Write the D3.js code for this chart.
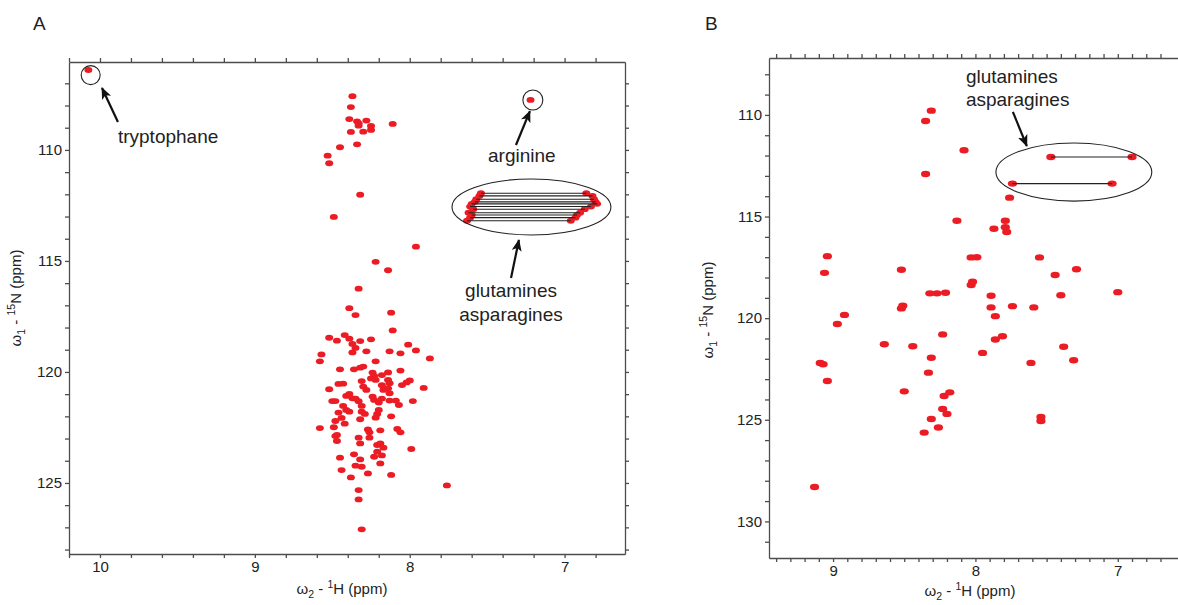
<!DOCTYPE html>
<html>
<head>
<meta charset="utf-8">
<title>HSQC spectra</title>
<script src="https://cdnjs.cloudflare.com/ajax/libs/d3/7.8.5/d3.min.js"></script>
<style>
  body { margin: 0; background: #fff; }
  svg { display: block; font-family: "Liberation Sans", Arial, sans-serif; }
  .axis path, .axis line { stroke: #4d4d4d; stroke-width: 1.3; }
  .axis text { font-size: 15px; fill: #222; }
  .peak { fill: #ec1c24; }
  .pair { stroke: #222; stroke-width: 1.1; }
  .note { font-size: 19px; fill: #222; }
  .ring { fill: none; stroke: #222; stroke-width: 1.1; }
  .arrow { stroke: #111; stroke-width: 2.2; }
</style>
</head>
<body>
<div id="chart"></div>
<script>
// ---- data: panel A (1H ppm, 15N ppm) ----
var trpPeakA = [10.075, 106.4];
var argPeakA = [7.22, 107.75];

var amidePeaksA = [
  [8.37,107.58],[8.38,108.07],[8.39,108.61],[8.34,108.71],[8.33,108.8],[8.33,108.91],[8.28,108.68],
  [8.25,108.92],[8.25,109.1],[8.30,109.18],[8.38,109.19],[8.11,108.83],[8.34,109.75],[8.45,109.88],
  [8.53,110.26],[8.52,110.6],[8.32,112.02],[8.49,113.02],
  [7.96,114.36],[8.22,115.04],[8.14,115.42],[8.33,116.25],[8.39,117.13],[8.35,117.44],[8.12,117.33],
  [8.11,118.13],[8.52,118.46],[8.42,118.34],[8.39,118.50],[8.47,118.59],[8.32,118.61],[8.25,118.53],
  [8.37,118.74],[8.35,118.92],[8.37,119.12],[8.28,119.07],[8.01,118.77],[7.96,119.03],[8.13,119.07],
  [8.06,119.16],[8.57,119.21],[8.58,119.52],[7.87,119.39],[8.22,119.52],[8.45,119.88],[8.36,119.88],
  [8.32,119.81],[8.30,119.76],[8.24,120.03],[8.14,120.02],[8.06,119.94],[8.25,120.29],[8.23,120.18],
  [8.18,120.14],[8.22,120.36],[8.31,120.41],[8.14,120.36],[8.13,120.51],[8.00,120.38],[8.02,120.47],
  [8.05,120.59],[8.46,120.54],[8.43,120.53],[8.52,120.78],[8.30,120.66],[8.28,120.81],[8.18,120.60],
  [8.17,120.81],[8.14,120.74],[8.13,120.96],[7.91,120.72],[8.39,120.99],[8.41,121.08],[8.37,121.19],
  [8.35,121.20],[8.33,121.32],[8.24,121.11],[8.23,121.26],[8.18,121.20],[8.20,121.38],[8.13,121.29],
  [8.09,121.29],[8.07,121.49],[8.50,121.31],[8.48,121.31],[7.98,121.31],[8.31,121.53],[8.43,121.53],
  [8.46,121.83],[8.41,121.71],[8.39,121.79],[8.31,121.79],[8.29,121.89],[8.20,121.71],[8.21,121.89],
  [8.44,122.07],[8.32,122.13],[8.22,122.06],[8.12,122.00],[8.48,122.21],[8.42,122.33],[8.58,122.53],
  [8.49,122.49],[8.27,122.59],[8.26,122.72],[8.19,122.63],[8.08,122.57],[8.06,122.72],[8.48,122.89],
  [8.47,122.84],[8.33,122.96],[8.47,123.11],[8.26,122.96],[8.32,123.22],[8.21,123.29],[8.19,123.22],
  [8.17,123.41],[8.21,123.59],[7.99,123.47],[8.36,123.71],[8.18,123.76],[8.45,123.86],[8.23,123.82],
  [8.32,123.94],[8.35,124.22],[8.31,124.27],[8.19,124.12],[8.44,124.42],[8.27,124.57],[8.12,124.64],
  [8.38,124.75],[8.33,125.32],[8.33,125.74],[8.31,127.09],[7.76,125.11]
];

// side-chain NH2 pairs: [H left, H right, N]
var sideChainPairsA = [
  [7.54,6.86,111.95],[7.55,6.82,112.07],[7.57,6.81,112.22],[7.58,6.80,112.34],
  [7.60,6.79,112.43],[7.61,6.83,112.55],[7.59,6.87,112.67],[7.62,6.90,112.83],
  [7.60,6.92,112.93],[7.61,6.93,113.05],[7.63,6.96,113.19]
];

// ---- data: panel B ----
var amidePeaksB = [
  [8.31,109.79],[8.35,110.30],[8.35,112.91],[8.08,111.74],[7.76,114.07],[8.13,115.21],[7.79,115.21],
  [7.87,115.60],[7.79,115.53],[7.78,115.76],[8.03,117.01],[7.99,117.00],[7.55,117.01],[8.52,117.62],
  [7.29,117.59],[7.44,117.88],[8.02,118.21],[8.03,118.37],[8.32,118.78],[8.27,118.78],[8.21,118.75],
  [7.89,118.90],[7.40,118.87],[7.00,118.72],[8.52,119.52],[8.51,119.39],[7.89,119.47],[7.74,119.41],
  [7.59,119.47],[7.86,119.90],[9.04,116.95],[9.06,117.77],[8.92,119.84],[8.97,120.29],[8.23,120.80],
  [8.64,121.28],[8.44,121.38],[7.86,121.05],[7.81,120.89],[7.38,121.41],[7.95,121.71],[8.31,121.95],
  [7.31,122.07],[7.61,122.20],[9.09,122.20],[9.07,122.27],[8.33,122.68],[9.04,123.09],[8.50,123.60],
  [8.22,123.83],[8.18,123.65],[8.23,124.47],[8.20,124.71],[8.31,124.96],[7.54,124.86],[7.54,125.06],
  [8.26,125.38],[8.36,125.63],[9.13,128.31]
];
var sideChainPairsB = [[7.47,6.90,112.07],[7.74,7.04,113.38]];

// ---- ticks ----
var hTicksA = d3.range(34, 52).map(function (i) { return i / 5; });    // 6.8 .. 10.2
var nTicksA = d3.range(107, 129);
var hLabelsA = [7, 8, 9, 10];
var nLabelsA = [110, 115, 120, 125];
var hTicksB = d3.range(67, 95).map(function (i) { return i / 10; });   // 6.7 .. 9.4
var nTicksB = d3.range(108, 132);
var hLabelsB = [7, 8, 9];
var nLabelsB = [110, 115, 120, 125, 130];

// ---- annotations, in ppm ----
var notesA = {
  trpRing: [10.06, 106.63], trpArrow: [[9.884,108.74],[9.987,107.21]], trpText: [9.884, 109.69],
  argRing: [7.205, 107.75], argArrow: [[7.314,109.78],[7.224,108.25]], argText: [7.276, 110.54],
  ellipse: [7.727, 6.701, 111.31, 113.83],
  glnArrow: [[7.346,115.77],[7.295,114.06]], glnText: [7.346, 116.63, 117.71]
};
var notesB = {
  ellipse: [7.856, 6.761, 111.38, 114.24],
  glnArrow: [[7.737,109.85],[7.639,111.53]], glnText: [8.067, 108.42, 109.56]
};

var W = 1178, H = 605;
var svg = d3.select("#chart").append("svg").attr("width", W).attr("height", H);

svg.append("defs").append("marker")
  .attr("id", "head")
  .attr("viewBox", "0 0 12 10")
  .attr("refX", 11).attr("refY", 5)
  .attr("markerWidth", 12).attr("markerHeight", 10)
  .attr("markerUnits", "userSpaceOnUse")
  .attr("orient", "auto")
  .append("path").attr("d", "M0,0 L12,5 L0,10 L3,5 Z").attr("fill", "#111");

// panel letters
svg.append("text").attr("x", 33).attr("y", 30).style("font-size", "19px").attr("fill", "#222").text("A");
svg.append("text").attr("x", 705).attr("y", 30).style("font-size", "19px").attr("fill", "#222").text("B");

function fmt(labels) {
  return function (d) {
    for (var i = 0; i < labels.length; i++) if (Math.abs(labels[i] - d) < 1e-6) return labels[i];
    return "";
  };
}

function axisTitleY(g, cx, cy) {
  var t = g.append("text")
    .attr("transform", "translate(" + cx + "," + cy + ") rotate(-90)")
    .attr("text-anchor", "middle").style("font-size", "15px").attr("fill", "#222");
  t.append("tspan").text("\u03c9");
  t.append("tspan").attr("dy", 4).style("font-size", "10.5px").text("1");
  t.append("tspan").attr("dy", -4).text(" - ");
  t.append("tspan").attr("dy", -6).style("font-size", "10.5px").text("15");
  t.append("tspan").attr("dy", 6).text("N  (ppm)");
}

function axisTitleX(g, cx, cy) {
  var t = g.append("text")
    .attr("x", cx).attr("y", cy)
    .attr("text-anchor", "middle").style("font-size", "15px").attr("fill", "#222");
  t.append("tspan").text("\u03c9");
  t.append("tspan").attr("dy", 4).style("font-size", "10.5px").text("2");
  t.append("tspan").attr("dy", -4).text(" - ");
  t.append("tspan").attr("dy", -6).style("font-size", "10.5px").text("1");
  t.append("tspan").attr("dy", 6).text("H  (ppm)");
}

function drawPanel(p) {
  var x = d3.scaleLinear().domain(p.hDomain).range([p.left, p.right]);
  var y = d3.scaleLinear().domain(p.nDomain).range([p.top, p.bottom]);
  var g = svg.append("g");

  // peaks
  g.append("g").selectAll("ellipse")
    .data(p.peaks)
    .enter().append("ellipse")
    .attr("class", "peak")
    .attr("cx", function (d) { return x(d[0]); })
    .attr("cy", function (d) { return y(d[1]); })
    .attr("rx", p.rx).attr("ry", p.ry);

  // side-chain pair ends + connecting lines
  var ends = [];
  p.pairs.forEach(function (d) { ends.push([d[0], d[2]]); ends.push([d[1], d[2]]); });
  g.append("g").selectAll("ellipse")
    .data(ends)
    .enter().append("ellipse")
    .attr("class", "peak")
    .attr("cx", function (d) { return x(d[0]); })
    .attr("cy", function (d) { return y(d[1]); })
    .attr("rx", p.rx).attr("ry", p.ry);
  g.append("g").selectAll("line")
    .data(p.pairs)
    .enter().append("line")
    .attr("class", "pair")
    .attr("x1", function (d) { return x(d[0]); })
    .attr("x2", function (d) { return x(d[1]); })
    .attr("y1", function (d) { return y(d[2]); })
    .attr("y2", function (d) { return y(d[2]); });

  // axes
  var hIn = p.hTicks.filter(function (d) { return d <= d3.max(p.hDomain) + 1e-6 && d >= d3.min(p.hDomain); });
  var nIn = p.nTicks.filter(function (d) { return d <= d3.max(p.nDomain) && d >= d3.min(p.nDomain); });

  g.append("g").attr("class", "axis")
    .attr("transform", "translate(0," + p.bottom + ")")
    .call(d3.axisBottom(x).tickValues(hIn).tickFormat(fmt(p.hLabels)).tickSize(4).tickSizeOuter(0).tickPadding(3));
  g.append("g").attr("class", "axis")
    .attr("transform", "translate(0," + p.top + ")")
    .call(d3.axisTop(x).tickValues(hIn).tickFormat("").tickSize(4).tickSizeOuter(0));
  g.append("g").attr("class", "axis")
    .attr("transform", "translate(" + p.left + ",0)")
    .call(d3.axisLeft(y).tickValues(nIn).tickFormat(fmt(p.nLabels)).tickSize(4).tickSizeOuter(0).tickPadding(3));
  if (p.rightSpine) {
    g.append("g").attr("class", "axis")
      .attr("transform", "translate(" + p.right + ",0)")
      .call(d3.axisRight(y).tickValues(nIn).tickFormat("").tickSize(4).tickSizeOuter(0));
  }

  axisTitleY(g, p.left - p.yTitleOff, p.yTitleY);
  axisTitleX(g, p.xTitleX, p.bottom + p.xTitleOff);

  return { g: g, x: x, y: y };
}

function arrow(g, x, y, a) {
  g.append("line").attr("class", "arrow")
    .attr("x1", x(a[0][0])).attr("y1", y(a[0][1]))
    .attr("x2", x(a[1][0])).attr("y2", y(a[1][1]))
    .attr("marker-end", "url(#head)");
}

function ellipseBox(g, x, y, e) {
  g.append("ellipse").attr("class", "ring")
    .attr("cx", (x(e[0]) + x(e[1])) / 2).attr("cy", (y(e[2]) + y(e[3])) / 2)
    .attr("rx", Math.abs(x(e[1]) - x(e[0])) / 2).attr("ry", Math.abs(y(e[3]) - y(e[2])) / 2);
}

// ---- panel A ----
var A = drawPanel({
  hDomain: [10.2, 6.61], nDomain: [106.04, 128.2],
  left: 69, right: 625, top: 62, bottom: 554,
  peaks: amidePeaksA.concat([trpPeakA, argPeakA]), pairs: sideChainPairsA,
  rx: 4, ry: 2.9,
  hTicks: hTicksA, nTicks: nTicksA, hLabels: hLabelsA, nLabels: nLabelsA,
  rightSpine: true, yTitleY: 298, yTitleOff: 48, xTitleX: 342, xTitleOff: 40
});

A.g.append("circle").attr("class", "ring")
  .attr("cx", A.x(notesA.trpRing[0])).attr("cy", A.y(notesA.trpRing[1])).attr("r", 9.5);
arrow(A.g, A.x, A.y, notesA.trpArrow);
A.g.append("text").attr("class", "note")
  .attr("x", A.x(notesA.trpText[0])).attr("y", A.y(notesA.trpText[1])).text("tryptophane");

A.g.append("circle").attr("class", "ring")
  .attr("cx", A.x(notesA.argRing[0])).attr("cy", A.y(notesA.argRing[1])).attr("r", 10);
arrow(A.g, A.x, A.y, notesA.argArrow);
A.g.append("text").attr("class", "note").attr("text-anchor", "middle")
  .attr("x", A.x(notesA.argText[0])).attr("y", A.y(notesA.argText[1])).text("arginine");

ellipseBox(A.g, A.x, A.y, notesA.ellipse);
arrow(A.g, A.x, A.y, notesA.glnArrow);
A.g.append("text").attr("class", "note").attr("text-anchor", "middle")
  .attr("x", A.x(notesA.glnText[0])).attr("y", A.y(notesA.glnText[1])).text("glutamines");
A.g.append("text").attr("class", "note").attr("text-anchor", "middle")
  .attr("x", A.x(notesA.glnText[0])).attr("y", A.y(notesA.glnText[2])).text("asparagines");

// ---- panel B ----
var B = drawPanel({
  hDomain: [9.45, 6.57], nDomain: [107.2, 131.8],
  left: 769, right: 1179, top: 58, bottom: 558,
  peaks: amidePeaksB, pairs: sideChainPairsB,
  rx: 4.6, ry: 3.2,
  hTicks: hTicksB, nTicks: nTicksB, hLabels: hLabelsB, nLabels: nLabelsB,
  rightSpine: false, yTitleY: 310, yTitleOff: 56, xTitleX: 970, xTitleOff: 38
});

ellipseBox(B.g, B.x, B.y, notesB.ellipse);
arrow(B.g, B.x, B.y, notesB.glnArrow);
B.g.append("text").attr("class", "note")
  .attr("x", B.x(notesB.glnText[0])).attr("y", B.y(notesB.glnText[1])).text("glutamines");
B.g.append("text").attr("class", "note")
  .attr("x", B.x(notesB.glnText[0])).attr("y", B.y(notesB.glnText[2])).text("asparagines");
</script>
</body>
</html>
